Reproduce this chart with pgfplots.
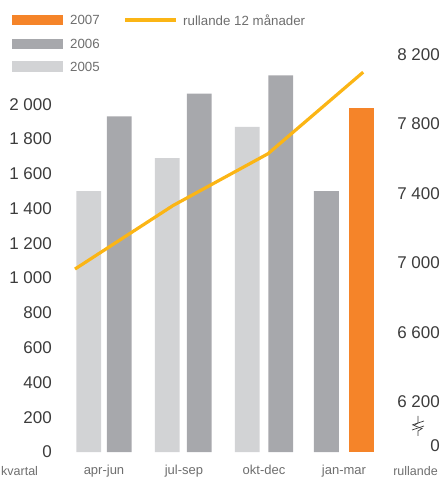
\documentclass[border=0pt]{standalone}
\usepackage{fontspec}
\setmainfont{Liberation Sans}
\usepackage{pgfplots}
\pgfplotsset{compat=1.18}

\definecolor{c2007}{RGB}{245,132,41}
\definecolor{c2006}{RGB}{167,168,172}
\definecolor{c2005}{RGB}{210,211,213}
\definecolor{cline}{RGB}{251,181,21}
\definecolor{tdark}{RGB}{60,60,60}
\definecolor{tmid}{RGB}{110,110,110}

\pgfplotsset{
  common/.style={
    scale only axis, width=328pt, height=400pt,
    at={(0,0)}, anchor=south west,
    xmin=-0.55, xmax=3.55,
    axis line style={draw=none},
    tick style={draw=none},
    tick label style={font=\fontsize{17}{20}\selectfont, text=tdark},
    /pgf/number format/assume math mode=true,
    /pgf/number format/1000 sep={\ },
  }
}

\begin{document}
\begin{tikzpicture}
\useasboundingbox (-60pt,-27pt) rectangle (383pt,452pt);

% bars, left axis
\begin{axis}[common,
    ymin=0, ymax=2300,
    ytick={0,200,...,2000},
    ytick pos=left,
    yticklabel style={anchor=east, inner sep=0pt, xshift=-8pt},
    xtick={0,1,2,3},
    xticklabels={apr-jun,jul-sep,okt-dec,jan-mar},
    xticklabel style={font=\fontsize{13}{15}\selectfont, text=tmid,
                      anchor=base, inner sep=0pt, yshift=-18pt},
    ybar, bar width=0.31, bar shift=0pt,
  ]
  \addplot[fill=c2005, draw=none] coordinates {(-0.19,1500) (0.79,1690) (1.79,1870)};
  \addplot[fill=c2006, draw=none] coordinates {(0.19,1930) (1.19,2060) (2.21,2165) (2.78,1500)};
  \addplot[fill=c2007, draw=none] coordinates {(3.22,1980)};
\end{axis}

% rolling 12 months, right axis
\begin{axis}[common,
    ymin=5913, ymax=8213,
    xtick=\empty,
    ytick={5947,6200,6600,7000,7400,7800,8200},
    yticklabels={0,6 200,6 600,7 000,7 400,7 800,8 200},
    yticklabel pos=right,
    yticklabel style={anchor=east, inner sep=0pt, xshift=52pt},
  ]
  \addplot[cline, line width=3.2pt, line join=round] coordinates
    {(-0.3625,6965) (0.8625,7330) (2.05,7628) (3.24,8097)};
\end{axis}

% legend, labels and axis break (image coordinates)
\begin{scope}[x=1pt, y=-1pt, shift={(-60pt,452pt)}]
  \fill[c2007] (12,15) rectangle (63,25);
  \fill[c2006] (12,39) rectangle (63,49);
  \fill[c2005] (12,61) rectangle (63,72);
  \draw[cline, line width=3.2pt] (125,20) -- (176,20);
  \begin{scope}[every node/.style={inner sep=0pt, anchor=west, text=tmid,
                font=\fontsize{13.3}{15}\selectfont}]
    \node at (70,20) {2007};
    \node at (70,44) {2006};
    \node at (70,66.5) {2005};
    \node at (183,20) {rullande 12 månader};
  \end{scope}
  \node[inner sep=0pt, anchor=base west, text=tmid, font=\fontsize{12.5}{14}\selectfont]
    at (1,475) {kvartal};
  \node[inner sep=0pt, anchor=base east, text=tmid, font=\fontsize{12.5}{14}\selectfont]
    at (438,475) {rullande};
  \draw[tdark, line width=0.7pt] (418,416) -- (418,423) -- (414,425.5) -- (422,428.5)
    -- (418,431) -- (418,436);
  \draw[tdark, line width=0.7pt] (412,425) -- (424,421);
  \draw[tdark, line width=0.7pt] (412,430) -- (424,426);
\end{scope}
\end{tikzpicture}
\end{document}
